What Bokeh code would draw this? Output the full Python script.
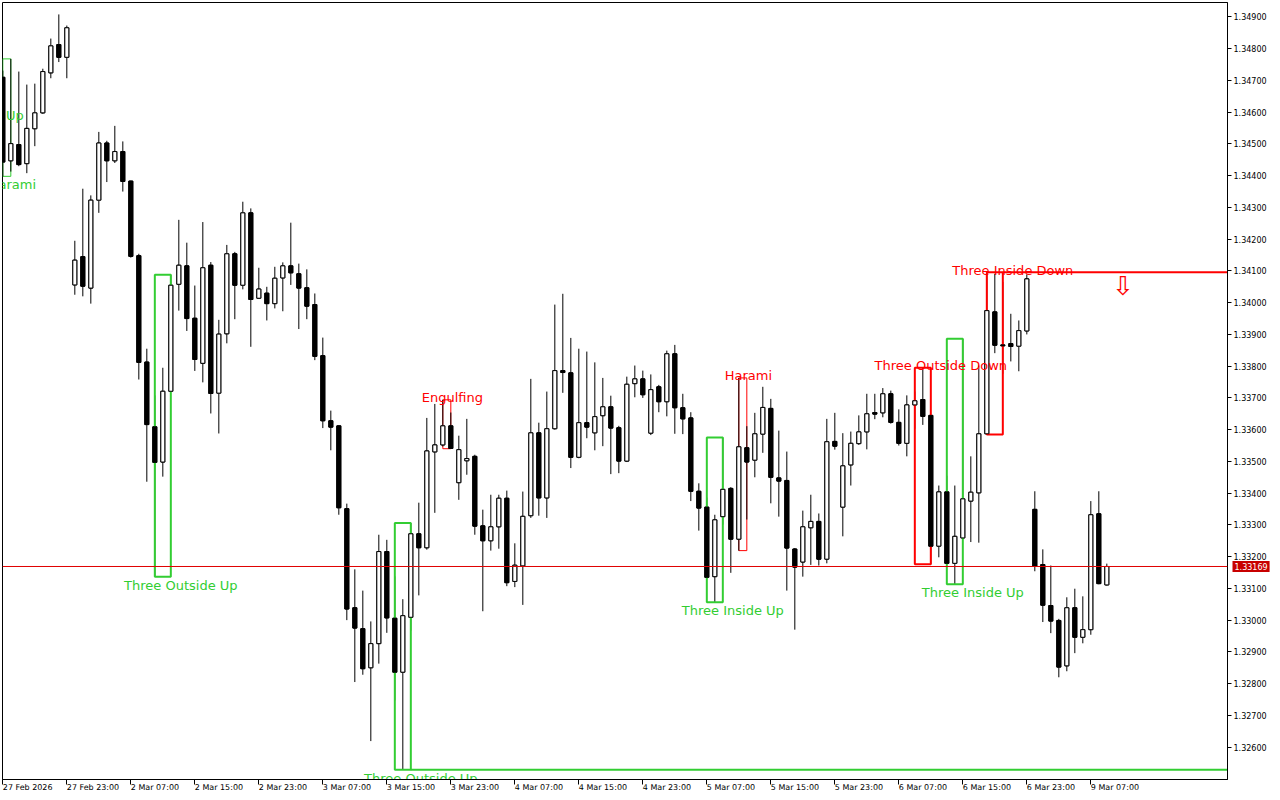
from bokeh.plotting import figure
from bokeh.models import (Range1d, FixedTicker, PrintfTickFormatter, Label, Span,
                          LinearAxis, ColumnDataSource)
from bokeh.embed import file_html
from bokeh.resources import INLINE
from bokeh.core.properties import value

# ---------------- data (H1 candles, bar index 0..138) ----------------
opens = [1.34710, 1.34447, 1.34498, 1.34438, 1.34548, 1.34598, 1.34724, 1.34813, 1.34773,
         1.34056, 1.34145, 1.34046, 1.34323, 1.34503, 1.34447, 1.34476, 1.34383, 1.34148,
         1.33813, 1.33609, 1.33498, 1.33721, 1.34058, 1.34116, 1.33951, 1.33809, 1.34118,
         1.33715, 1.33902, 1.34154, 1.34055, 1.34283, 1.34014, 1.34030, 1.33997, 1.34078,
         1.34116, 1.34091, 1.34047, 1.33994, 1.33833, 1.33628, 1.33612, 1.33351, 1.33039,
         1.32973, 1.32850, 1.32926, 1.33216, 1.33006, 1.32836, 1.33009, 1.33272, 1.33228,
         1.33530, 1.33552, 1.33612, 1.33433, 1.33502, 1.33516, 1.33297, 1.33250, 1.33294,
         1.33384, 1.33122, 1.33171, 1.33329, 1.33590, 1.33385, 1.33603, 1.33786, 1.33779,
         1.33513, 1.33622, 1.33590, 1.33644, 1.33672, 1.33606, 1.33501, 1.33745, 1.33760,
         1.33589, 1.33735, 1.33688, 1.33839, 1.33669, 1.33637, 1.33406, 1.33356, 1.33137,
         1.33326, 1.33415, 1.33255, 1.33543, 1.33504, 1.33586, 1.33667, 1.33448, 1.33440,
         1.33224, 1.33183, 1.33291, 1.33311, 1.33192, 1.33563, 1.33356, 1.33489, 1.33556,
         1.33593, 1.33654, 1.33653, 1.33713, 1.33623, 1.33557, 1.33678, 1.33695, 1.33645,
         1.33233, 1.33404, 1.33179, 1.33259, 1.33375, 1.33401, 1.33587, 1.33971, 1.33867,
         1.33871, 1.33863, 1.33911, 1.33349, 1.33175, 1.33046, 1.32999, 1.32856, 1.33039,
         1.32946, 1.32970, 1.33335, 1.33111]
highs = [1.34731, 1.34768, 1.34728, 1.34687, 1.34690, 1.34737, 1.34832, 1.34908, 1.34873,
         1.34195, 1.34359, 1.34338, 1.34538, 1.34510, 1.34557, 1.34508, 1.34384, 1.34154,
         1.33855, 1.33708, 1.33795, 1.34088, 1.34261, 1.34189, 1.34054, 1.34254, 1.34128,
         1.33946, 1.34182, 1.34160, 1.34318, 1.34297, 1.34110, 1.34050, 1.34113, 1.34127,
         1.34252, 1.34123, 1.34105, 1.34029, 1.33890, 1.33660, 1.33613, 1.33367, 1.33160,
         1.33093, 1.32996, 1.33269, 1.33253, 1.33138, 1.33066, 1.33306, 1.33370, 1.33637,
         1.33681, 1.33694, 1.33654, 1.33581, 1.33634, 1.33521, 1.33348, 1.33395, 1.33395,
         1.33408, 1.33242, 1.33405, 1.33760, 1.33622, 1.33720, 1.33994, 1.34028, 1.33889,
         1.33855, 1.33846, 1.33812, 1.33763, 1.33707, 1.33612, 1.33767, 1.33802, 1.33786,
         1.33774, 1.33741, 1.33849, 1.33867, 1.33713, 1.33655, 1.33431, 1.33386, 1.33332,
         1.33575, 1.33419, 1.33763, 1.33611, 1.33653, 1.33735, 1.33697, 1.33597, 1.33531,
         1.33227, 1.33345, 1.33395, 1.33336, 1.33634, 1.33653, 1.33589, 1.33594, 1.33645,
         1.33713, 1.33713, 1.33731, 1.33723, 1.33664, 1.33708, 1.33720, 1.33795, 1.33646,
         1.33424, 1.33455, 1.33424, 1.33886, 1.33516, 1.33802, 1.34096, 1.34091, 1.34065,
         1.33965, 1.33944, 1.34089, 1.33406, 1.33223, 1.33172, 1.33004, 1.33072, 1.33099,
         1.33075, 1.33375, 1.33406, 1.33178]
lows = [1.34398, 1.34413, 1.34430, 1.34408, 1.34493, 1.34595, 1.34707, 1.34758, 1.34707,
        1.34025, 1.34020, 1.33997, 1.34283, 1.34380, 1.34440, 1.34350, 1.34142, 1.33758,
        1.33436, 1.33137, 1.33452, 1.33719, 1.33975, 1.33911, 1.33785, 1.33749, 1.33651,
        1.33588, 1.33872, 1.33948, 1.34042, 1.33861, 1.34012, 1.33944, 1.33982, 1.33973,
        1.34056, 1.33917, 1.33948, 1.33819, 1.33605, 1.33535, 1.33332, 1.33000, 1.32805,
        1.32828, 1.32619, 1.32863, 1.32960, 1.32747, 1.32529, 1.32967, 1.33078, 1.33222,
        1.33338, 1.33547, 1.33540, 1.33379, 1.33458, 1.33269, 1.33028, 1.33219, 1.33225,
        1.33107, 1.33104, 1.33048, 1.33322, 1.33329, 1.33322, 1.33600, 1.33716, 1.33479,
        1.33510, 1.33573, 1.33535, 1.33548, 1.33460, 1.33463, 1.33498, 1.33702, 1.33700,
        1.33583, 1.33655, 1.33642, 1.33587, 1.33586, 1.33375, 1.33282, 1.33130, 1.33056,
        1.33301, 1.33149, 1.33219, 1.33317, 1.33450, 1.33527, 1.33368, 1.33326, 1.33093,
        1.32970, 1.33137, 1.33174, 1.33172, 1.33179, 1.33537, 1.33264, 1.33424, 1.33552,
        1.33538, 1.33633, 1.33639, 1.33619, 1.33550, 1.33516, 1.33603, 1.33615, 1.33176,
        1.33198, 1.33176, 1.33113, 1.33255, 1.33246, 1.33244, 1.33585, 1.33841, 1.33776,
        1.33815, 1.33784, 1.33900, 1.33154, 1.32994, 1.32959, 1.32820, 1.32839, 1.32896,
        1.32927, 1.32954, 1.33113, 1.33109]
closes = [1.34443, 1.34501, 1.34435, 1.34549, 1.34598, 1.34728, 1.34809, 1.34773, 1.34866,
          1.34134, 1.34052, 1.34323, 1.34503, 1.34447, 1.34476, 1.34382, 1.34146, 1.33812,
          1.33616, 1.33497, 1.33721, 1.34055, 1.34118, 1.33950, 1.33821, 1.34110, 1.33714,
          1.33901, 1.34154, 1.34055, 1.34283, 1.34010, 1.34043, 1.33997, 1.34077, 1.34116,
          1.34094, 1.34046, 1.33989, 1.33831, 1.33628, 1.33608, 1.33354, 1.33035, 1.32975,
          1.32847, 1.32926, 1.33216, 1.33007, 1.32836, 1.33014, 1.33272, 1.33228, 1.33533,
          1.33552, 1.33612, 1.33541, 1.33537, 1.33509, 1.33296, 1.33250, 1.33294, 1.33384,
          1.33118, 1.33173, 1.33327, 1.33590, 1.33385, 1.33603, 1.33786, 1.33780, 1.33513,
          1.33622, 1.33608, 1.33641, 1.33672, 1.33605, 1.33501, 1.33743, 1.33760, 1.33710,
          1.33726, 1.33688, 1.33839, 1.33669, 1.33634, 1.33406, 1.33353, 1.33135, 1.33316,
          1.33412, 1.33255, 1.33546, 1.33498, 1.33587, 1.33670, 1.33450, 1.33438, 1.33227,
          1.33167, 1.33294, 1.33311, 1.33192, 1.33562, 1.33548, 1.33486, 1.33557, 1.33593,
          1.33650, 1.33649, 1.33713, 1.33623, 1.33557, 1.33678, 1.33691, 1.33642, 1.33233,
          1.33404, 1.33179, 1.33264, 1.33382, 1.33403, 1.33587, 1.33975, 1.33866, 1.33864,
          1.33862, 1.33912, 1.34075, 1.33169, 1.33047, 1.32997, 1.32852, 1.33039, 1.32946,
          1.32970, 1.33332, 1.33115, 1.33169]

time_labels = ["27 Feb 2026", "27 Feb 23:00", "2 Mar 07:00", "2 Mar 15:00", "2 Mar 23:00",
               "3 Mar 07:00", "3 Mar 15:00", "3 Mar 23:00", "4 Mar 07:00", "4 Mar 15:00",
               "4 Mar 23:00", "5 Mar 07:00", "5 Mar 15:00", "5 Mar 23:00", "6 Mar 07:00",
               "6 Mar 15:00", "6 Mar 23:00", "9 Mar 07:00"]
time_label_bars = [0, 8, 16, 24, 32, 40, 48, 56, 64, 72, 80, 88, 96, 104, 112, 120, 128, 136]

price_ticks = [1.326, 1.327, 1.328, 1.329, 1.330, 1.331, 1.332, 1.333, 1.334, 1.335, 1.336,
               1.337, 1.338, 1.339, 1.340, 1.341, 1.342, 1.343, 1.344, 1.345, 1.346, 1.347,
               1.348, 1.349]
current_price = 1.33169

# candlestick patterns: name, first bar, last bar, direction, edge extended to the right
pat_names = ["Harami", "Three Outside Up", "Three Outside Up", "Engulfing", "Three Inside Up",
             "Harami", "Three Outside Down", "Three Inside Up", "Three Inside Down"]
pat_first = [0, 19, 49, 55, 88, 92, 114, 118, 123]
pat_last = [1, 21, 51, 56, 90, 93, 116, 120, 125]
pat_dir = ["bull", "bull", "bull", "bear", "bull", "bear", "bear", "bull", "bear"]
pat_extend = [None, None, "bottom", None, None, None, None, None, "top"]
# label of a pattern that lies left of the visible bars
offscreen_name = "Three Inside Up"
offscreen_bar = -6
offscreen_price = 1.34616
# sell arrow
arrow_bar = 140
arrow_price = 1.34051

# ---------------- layout constants ----------------
PX_PER_BAR = 8
FRAME_W = 1225
FRAME_H = 777
TOP_PANEL = 20          # hidden strip above the page that hosts the price tag
X0 = -0.04
X1 = X0 + FRAME_W / PX_PER_BAR
Y_TOP = 1.349456
Y_BOT = 1.32498
GREEN = "#32cd32"
RED = "#ff0000"
FONT = "DejaVu Sans"

p = figure(width=1280, height=800 + TOP_PANEL - 2,
           x_range=Range1d(X0, X1), y_range=Range1d(Y_BOT, Y_TOP),
           output_backend="svg", toolbar_location=None,
           x_axis_location=None, y_axis_location=None,
           min_border_left=2, min_border_top=TOP_PANEL, min_border_right=53,
           min_border_bottom=21)
p.margin = (-(TOP_PANEL - 2), 0, 0, 0)
p.outline_line_color = "black"
p.outline_line_alpha = 1.0
p.outline_line_width = 1
p.background_fill_color = "white"
p.border_fill_color = "white"
for g in p.grid:
    g.visible = False

yaxis = LinearAxis(ticker=FixedTicker(ticks=price_ticks),
                   formatter=PrintfTickFormatter(format="%.5f"))
yaxis.axis_line_color = "black"
yaxis.major_tick_line_color = "black"
yaxis.major_tick_out = 4
yaxis.major_tick_in = 0
yaxis.minor_tick_line_color = None
yaxis.major_label_standoff = 2
yaxis.major_label_text_font = FONT
yaxis.major_label_text_font_size = "8px"
yaxis.major_label_text_color = "black"
p.add_layout(yaxis, "right")

xaxis = LinearAxis(ticker=FixedTicker(ticks=time_label_bars))
xaxis.major_label_overrides = {b: t for b, t in zip(time_label_bars, time_labels)}
xaxis.axis_line_color = "black"
xaxis.major_tick_line_color = "black"
xaxis.major_tick_out = 5
xaxis.major_tick_in = 0
xaxis.minor_tick_line_color = None
xaxis.major_label_orientation = -0.001   # near-horizontal: labels start at their tick
xaxis.major_label_standoff = 3
xaxis.major_label_text_font = FONT
xaxis.major_label_text_font_size = "8px"
xaxis.major_label_text_color = "black"
p.add_layout(xaxis, "below")

# ---------------- pattern boxes ----------------
n = len(opens)
idx = list(range(n))
box_thin = dict(left=[], right=[], top=[], bottom=[], color=[])
box_bold = dict(left=[], right=[], top=[], bottom=[], color=[])
lab = {"bull": dict(x=[], y=[], text=[], xo=[]), "bear": dict(x=[], y=[], text=[], xo=[])}
ext = dict(x0=[], x1=[], y=[], color=[])
for name, a, b, d, e in zip(pat_names, pat_first, pat_last, pat_dir, pat_extend):
    top = max(highs[a:b + 1])
    bot = min(lows[a:b + 1])
    col = GREEN if d == "bull" else RED
    nb = b - a + 1
    B = box_bold if nb >= 3 else box_thin
    B["left"].append(a); B["right"].append(b)
    B["top"].append(top); B["bottom"].append(bot)
    B["color"].append(col)
    L = lab[d]
    L["x"].append((a + b) / 2)
    L["y"].append(bot if d == "bull" else top)
    L["text"].append(name)
    L["xo"].append(18 if nb >= 3 else 5.6)
    if e is not None:
        ext["x0"].append(b); ext["x1"].append(X1 + 5)
        ext["y"].append(bot if e == "bottom" else top); ext["color"].append(col)

lab["bull"]["x"].append(offscreen_bar)
lab["bull"]["y"].append(offscreen_price)
lab["bull"]["text"].append(offscreen_name)
lab["bull"]["xo"].append(18)

# thin (two-bar) boxes sit under the candles
p.quad(left="left", right="right", top="top", bottom="bottom", source=ColumnDataSource(box_thin),
       fill_color=None, line_color="color", line_width=1)

# current price line
p.add_layout(Span(location=current_price, dimension="width", line_color="#e00000", line_width=1))

# ---------------- candles ----------------
up = [c > o for o, c in zip(opens, closes)]
p.segment(x0=idx, x1=idx, y0=lows, y1=highs, line_color="black", line_width=1)
body = ColumnDataSource(dict(
    x=idx,
    top=[max(o, c) for o, c in zip(opens, closes)],
    bottom=[min(o, c) for o, c in zip(opens, closes)],
    fill=["white" if u else "black" for u in up]))
p.vbar(x="x", width=0.5, top="top", bottom="bottom", source=body,
       fill_color="fill", line_color="black", line_width=1)

# bold (three-bar) boxes and their extended edges are drawn over the wicks
p.quad(left="left", right="right", top="top", bottom="bottom", source=ColumnDataSource(box_bold),
       fill_color=None, line_color="color", line_width=2)
p.segment(x0="x0", x1="x1", y0="y", y1="y", source=ColumnDataSource(ext),
          line_color="color", line_width=2)
# bodies stay in front of the box edges
p.vbar(x="x", width=0.5, top="top", bottom="bottom", source=body,
       fill_color="fill", line_color="black", line_width=1)

# ---------------- pattern labels ----------------
p.text(x="x", y="y", text="text", x_offset="xo", source=ColumnDataSource(lab["bull"]),
       y_offset=1, text_align="center", text_baseline="top", text_color=GREEN,
       text_font=value(FONT), text_font_size="13px")
p.text(x="x", y="y", text="text", x_offset="xo", source=ColumnDataSource(lab["bear"]),
       y_offset=-2, text_align="center", text_baseline="alphabetic", text_color=RED,
       text_font=value(FONT), text_font_size="13px")

# sell arrow
p.text(x=[arrow_bar], y=[arrow_price], text=["\u21e9"], text_align="center",
       text_baseline="middle", text_color=RED, text_font=value(FONT), text_font_size="26px")

# current price tag on the price scale (hosted in a side panel so it is not clipped)
tag = Label(x=X1 + 5.0 / PX_PER_BAR, y=current_price, x_units="data", y_units="data",
            text="%.5f" % current_price, text_align="left", text_baseline="middle",
            text_font=FONT, text_font_size="8px", text_color="white",
            background_fill_color="#c80000", padding=2)
p.add_layout(tag, "above")

open("out.html", "w").write(file_html(p, INLINE))
